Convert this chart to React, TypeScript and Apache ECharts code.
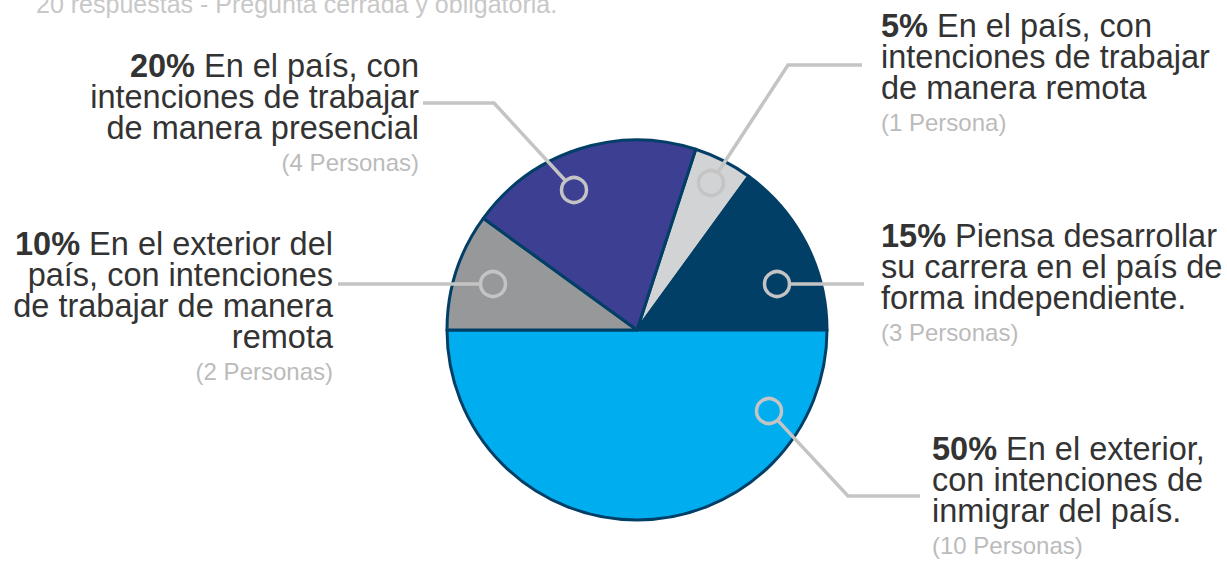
import React, { useEffect, useRef } from "react";
import * as echarts from "echarts";

const titleText = "20 respuestas - Pregunta cerrada y obligatoria.";
const categories = [
  "En el país, con intenciones de trabajar de manera remota",
  "Piensa desarrollar su carrera en el país de forma independiente.",
  "En el exterior, con intenciones de inmigrar del país.",
  "En el exterior del país, con intenciones de trabajar de manera remota",
  "En el país, con intenciones de trabajar de manera presencial",
];
const persons = [1, 3, 10, 2, 4];
const labelLinesText = [
  ["En el país, con", "intenciones de trabajar", "de manera remota"],
  ["Piensa desarrollar", "su carrera en el país de", "forma independiente."],
  ["En el exterior,", "con intenciones de", "inmigrar del país."],
  ["En el exterior del", "país, con intenciones", "de trabajar de manera", "remota"],
  ["En el país, con", "intenciones de trabajar", "de manera presencial"],
];
const colors = ["#D1D3D4", "#023F66", "#00AEEF", "#97989A", "#3D3F93"];

// annotation layout (pixels)
const layouts = [
  { circle: [711, 183], elbow: [788, 65], end: [862, 65], lx: 881, ly: 10, align: "left" },
  { circle: [777, 284], elbow: [827, 284], end: [864, 284], lx: 881, ly: 220, align: "left" },
  { circle: [769, 411], elbow: [848, 496], end: [920, 496], lx: 932, ly: 433, align: "left" },
  { circle: [493, 284], elbow: [410, 284], end: [338, 284], lx: 333, ly: 228, align: "right" },
  { circle: [574, 190], elbow: [494, 103], end: [423, 103], lx: 419, ly: 50, align: "right" },
];
const CR = 12.5;
const LINE_COLOR = "#C4C4C4";

export default function App() {
  const ref = useRef<HTMLDivElement>(null);
  useEffect(() => {
    document.body.style.margin = "0";
    const chart = echarts.init(ref.current!, null, { renderer: "svg" });
    const total = persons.reduce((a, b) => a + b, 0);
    const data = categories.map((name, i) => {
      const pct = Math.round((persons[i] / total) * 100);
      const lines = labelLinesText[i];
      const body = lines
        .map((l, k) => (k === 0 ? `{b|${pct}%\u00A0}{n|${l}}` : `{n|${l}}`))
        .join("\n");
      const sub = `{s|(${persons[i]} ${persons[i] === 1 ? "Persona" : "Personas"})}`;
      return {
        name,
        value: persons[i],
        itemStyle: { color: colors[i] },
        label: { formatter: body + "\n" + sub },
      };
    });
    const font = "'Liberation Sans', Arial, Helvetica, sans-serif";
    const connectors = layouts.map((l) => {
      const [cx, cy] = l.circle;
      const dx = l.elbow[0] - cx;
      const dy = l.elbow[1] - cy;
      const len = Math.sqrt(dx * dx + dy * dy);
      const start = [cx + (dx / len) * CR, cy + (dy / len) * CR];
      return {
        type: "polyline",
        z: 100,
        shape: { points: [start, l.elbow, l.end] },
        style: { stroke: LINE_COLOR, lineWidth: 3.5, fill: "none" },
      };
    });
    chart.setOption({
      animation: false,
      graphic: [
        {
          type: "text",
          x: 36,
          y: 4.3,
          style: {
            text: titleText,
            fill: "#C8C8C8",
            font: `25px ${font}`,
            verticalAlign: "middle",
          },
        },
        ...connectors,
        ...layouts.map((l) => ({
          type: "circle",
          z: 101,
          shape: { cx: l.circle[0], cy: l.circle[1], r: CR },
          style: { fill: "none", stroke: LINE_COLOR, lineWidth: 3.5 },
        })),
      ],
      series: [
        {
          type: "pie",
          center: [637, 330],
          radius: 190,
          startAngle: 72,
          clockwise: true,
          data,
          itemStyle: { borderColor: "#023F66", borderWidth: 3 },
          emphasis: { disabled: true },
          label: {
            show: true,
            position: "outside",
            fontFamily: font,
            rich: {
              b: { fontSize: 32.5, fontWeight: "bold", color: "#333333", lineHeight: 31, fontFamily: font },
              n: { fontSize: 32.5, color: "#333333", lineHeight: 31, fontFamily: font },
              s: { fontSize: 24, color: "#BBBBBB", lineHeight: 38, fontFamily: font },
            },
          },
          labelLine: { show: false },
          labelLayout: (p: any) => {
            const l = layouts[p.dataIndex];
            return {
              x: l.lx,
              y: l.ly,
              align: l.align,
              verticalAlign: "top",
            };
          },
        },
      ],
    });
    return () => chart.dispose();
  }, []);
  return <div ref={ref} style={{ width: 1227, height: 563 }} />;
}
